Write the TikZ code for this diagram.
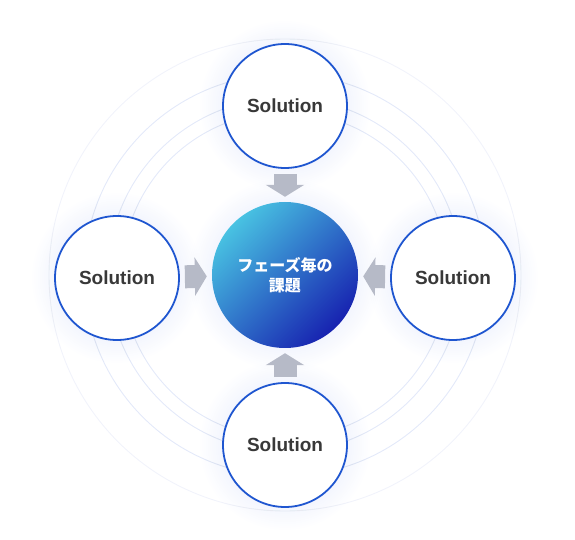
\documentclass[tikz,border=0pt]{standalone}
\usepackage{fontspec}
\setmainfont{Liberation Sans}
\newfontfamily\cjk{Noto Sans CJK JP}
\usetikzlibrary{arrows.meta}
\usetikzlibrary{backgrounds}
\definecolor{solblue}{HTML}{1F56D0}
\definecolor{textgray}{HTML}{383838}
\definecolor{ringblue}{HTML}{E3E9F9}
\definecolor{ringpale}{HTML}{F1F3FB}
\definecolor{glowblue}{HTML}{7F98F0}
\definecolor{arrowgray}{HTML}{B6BAC7}
\definecolor{corecyan}{HTML}{48C2E2}
\definecolor{coremid}{HTML}{2C78D6}
\definecolor{coredeep}{HTML}{1722B0}
\tikzset{%
    solution/.style={circle,draw=solblue,line width=1.8pt,fill=white,minimum size=124pt,inner sep=0pt,
        text=textgray,font=\bfseries\fontsize{19}{22}\selectfont},
    core/.style={circle,minimum size=146pt,inner sep=0pt,top color=corecyan,middle color=coremid,
        bottom color=coredeep,shading angle=45,text=white,align=center,
        font=\cjk\bfseries\fontsize{16}{20}\selectfont},
    flow/.style={arrowgray,line width=23pt,shorten <=5pt,shorten >=5pt,
        -{Triangle[length=12pt,width=38pt]}},
    ring/.style={ringblue,line width=0.9pt},
}
\begin{document}
\begin{tikzpicture}[x=1pt,y=1pt]
            \useasboundingbox (-285,-265) rectangle (290,275);

            %kreise
            \node[core] (core) at (0,0) {フェーズ毎の\\課題};
            \node[solution] (sTop) at (0,169) {Solution};
            \node[solution] (sLeft) at (-168,-3) {Solution};
            \node[solution] (sRight) at (168,-3) {Solution};
            \node[solution] (sBottom) at (0,-170) {Solution};

            %pfeile
            \draw[flow] (sTop) -- (core);
            \draw[flow] (sLeft) -- (core);
            \draw[flow] (sRight) -- (core);
            \draw[flow] (sBottom) -- (core);

            %ringe und schein
            \begin{scope}[on background layer]
                \draw[ringpale,line width=0.9pt] (core) circle (236);
                \draw[ring] (core) circle (201);
                \draw[ring] (core) circle (177);
                \draw[ring] (core) circle (163);
                \foreach \n in {sTop,sLeft,sRight,sBottom}
                    \foreach \k in {1,...,12}
                        \fill[glowblue,opacity=0.009] (\n) circle (61+2*\k);
                \foreach \k in {1,...,12}
                    \fill[glowblue,opacity=0.009] (core) circle (72+2*\k);
            \end{scope}
        \end{tikzpicture}
\end{document}
